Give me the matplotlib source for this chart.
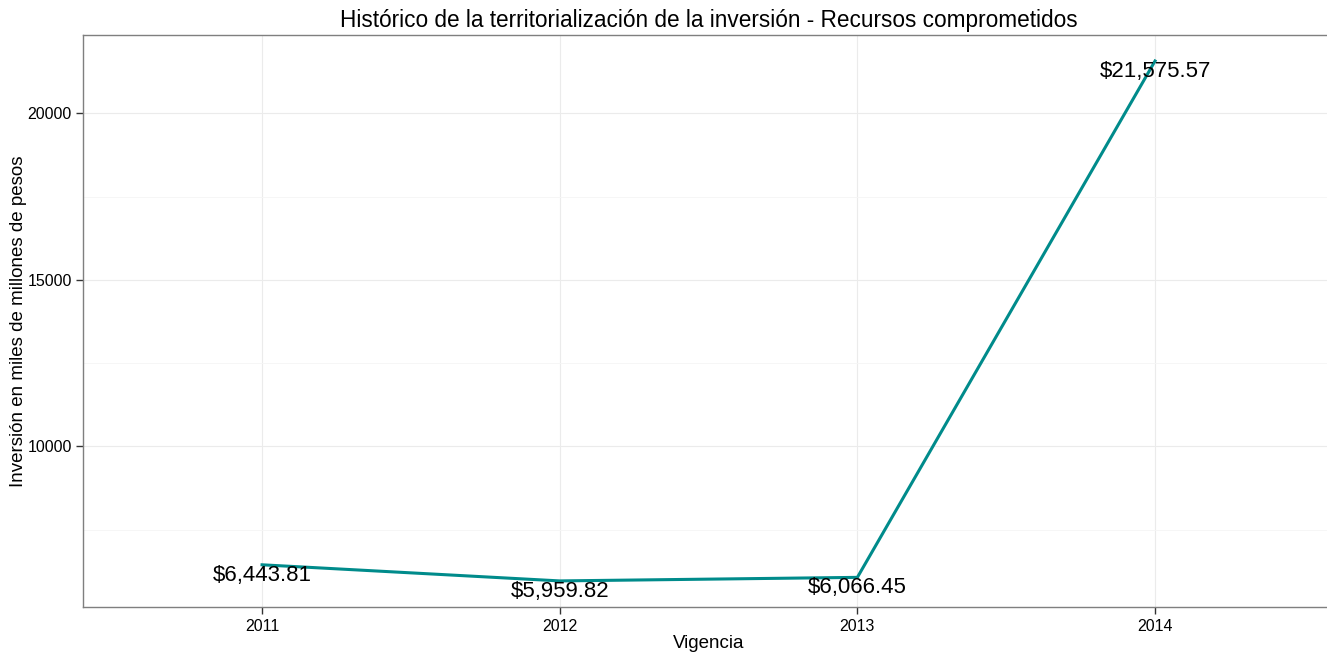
import matplotlib.pyplot as plt
import numpy as np

plt.rcParams['font.family'] = ['Liberation Sans', 'DejaVu Sans']

anios = ['2011', '2012', '2013', '2014']
valores = [6443.81, 5959.82, 6066.45, 21575.57]
etiquetas = ['$6,443.81', '$5,959.82', '$6,066.45', '$21,575.57']

fig = plt.figure(figsize=(13.27, 6.54), dpi=100)
# el panel se sale un poco por la derecha, igual que en la original
ax = fig.add_axes([0.0629, 0.072, 0.9421, 0.8745])

x = np.arange(1, len(anios) + 1)
ax.plot(x, valores, color='#008B8B', lw=2.2, solid_joinstyle='miter', zorder=3)
for xi, v, t in zip(x, valores, etiquetas):
    ax.text(xi, v, t, ha='center', va='top', fontsize=16, color='black', zorder=4)

# límites como en ggplot (expansión discreta 0.6, continua 5%)
ax.set_xlim(0.4, 4.6)
rango = max(valores) - min(valores)
ax.set_ylim(min(valores) - 0.05 * rango, max(valores) + 0.05 * rango)

ax.set_xticks(x)
ax.set_xticklabels(anios)
ax.set_yticks([10000, 15000, 20000])
ax.set_yticks([7500, 12500, 17500], minor=True)
ax.tick_params(axis='both', labelsize=11.5, color='#333333', length=5, width=1, labelcolor='black')
ax.tick_params(axis='y', which='minor', length=0)

ax.grid(True, which='major', color='#EBEBEB', lw=0.8)
ax.grid(True, which='minor', axis='y', color='#F5F5F5', lw=0.6)
ax.set_axisbelow(True)
for s in ax.spines.values():
    s.set_color('#7F7F7F')
    s.set_linewidth(1)

ax.set_title('Histórico de la territorialización de la inversión - Recursos comprometidos',
             fontsize=16.3, pad=6)
ax.set_xlabel('Vigencia', fontsize=13.5)
ax.set_ylabel('Inversión en miles de millones de pesos', fontsize=13.5)
ax.xaxis.set_label_coords(0.5, -0.049)
ax.yaxis.set_label_coords(-0.045, 0.5)

fig.savefig('out.png', dpi=100)
